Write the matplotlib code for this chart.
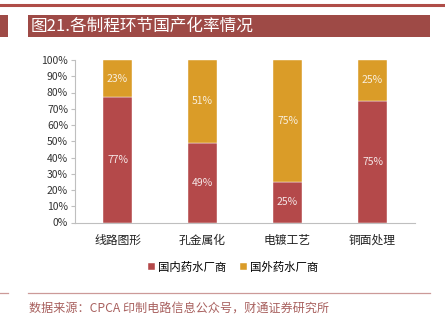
import matplotlib
matplotlib.use("Agg")
import matplotlib.pyplot as plt
from matplotlib.patches import Rectangle
from matplotlib.lines import Line2D
import numpy as np

plt.rcParams['font.family'] = ['Noto Sans CJK SC', 'DejaVu Sans']

categories = ['线路图形', '孔金属化', '电镀工艺', '铜面处理']
domestic = [77, 49, 25, 75]
foreign = [23, 51, 75, 25]
series_names = ['国内药水厂商', '国外药水厂商']
yticks = [0, 10, 20, 30, 40, 50, 60, 70, 80, 90, 100]

title = '图21.各制程环节国产化率情况'
source = '数据来源：CPCA 印制电路信息公众号，财通证券研究所'

RED = '#B4494A'
GOLD = '#DA9C28'
W, H = 445, 329

fig = plt.figure(figsize=(W / 100, H / 100), dpi=100)

# header decorations
fig.add_artist(Line2D([0, 1], [1 - 5 / H, 1 - 5 / H], color='#AF4D48', lw=2.2))
fig.add_artist(Rectangle((0, 1 - 37 / H), 8 / W, 22 / H, color='#9E4A46', lw=0))
fig.add_artist(Rectangle((28 / W, 1 - 37 / H), 402 / W, 22 / H, color='#9E4A46', lw=0))
fig.text(31 / W, 1 - 26 / H, title, color='white', fontsize=12, va='center', ha='left')

# footer
fig.add_artist(Line2D([28 / W, 430 / W], [1 - 293 / H, 1 - 293 / H], color='#CC9A98', lw=0.9))
fig.add_artist(Line2D([0, 8 / W], [1 - 293 / H, 1 - 293 / H], color='#CC9A98', lw=0.9))
fig.text(29 / W, 1 - 308 / H, source, color='#A8605E', fontsize=8.7, va='center', ha='left')

ax = fig.add_axes([75 / W, (H - 222.5) / H, 340 / W, 162.5 / H])
x = np.arange(len(categories))
bw = 0.34
b1 = ax.bar(x, domestic, bw, color=RED, label=series_names[0], edgecolor='white', linewidth=0.3)
b2 = ax.bar(x, foreign, bw, bottom=domestic, color=GOLD, label=series_names[1], edgecolor='white', linewidth=0.3)

for i in range(len(categories)):
    ax.text(x[i], domestic[i] / 2, f'{domestic[i]}%', ha='center', va='center', color='#F4E6E6', fontsize=7.5)
    ax.text(x[i], domestic[i] + foreign[i] / 2, f'{foreign[i]}%', ha='center', va='center', color='#F8EEDD', fontsize=7.5)

ax.set_xlim(-0.5, len(categories) - 0.5)
ax.set_ylim(0, 100)
ax.set_yticks(yticks)
ax.set_yticklabels([f'{v}%' for v in yticks], fontsize=7.5, color='#333333')
ax.set_xticks(x)
ax.set_xticklabels(categories, fontsize=8.5, color='#222222')
for s in ['top', 'right']:
    ax.spines[s].set_visible(False)
ax.spines['left'].set_color('#BFBFBF')
ax.spines['bottom'].set_color('#BFBFBF')
ax.spines['left'].set_linewidth(0.8)
ax.spines['bottom'].set_linewidth(0.8)
ax.tick_params(axis='y', length=3, color='#BFBFBF', width=0.8, pad=2)
ax.tick_params(axis='x', length=0, pad=8)

fig.legend(handles=[b1, b2], labels=series_names, loc='center', bbox_to_anchor=(233 / W, 1 - 267 / H),
           ncol=2, frameon=False, fontsize=8.2, handlelength=0.6, handleheight=0.6,
           handletextpad=0.3, columnspacing=1.2)

fig.savefig('out.png', dpi=100)
